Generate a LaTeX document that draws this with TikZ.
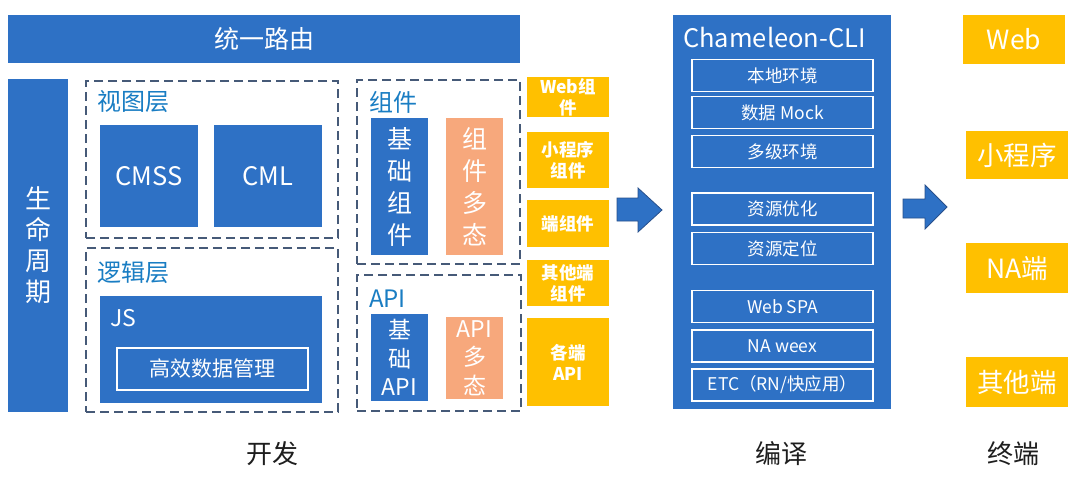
\documentclass[tikz,border=0pt]{standalone}
\usepackage{fontspec}
\setmainfont{Noto Sans CJK SC}
\definecolor{cblue}{RGB}{46,113,197}
\definecolor{lblue}{RGB}{25,125,195}
\definecolor{csalmon}{RGB}{247,168,124}
\definecolor{cyellow}{RGB}{255,192,0}
\definecolor{cdash}{RGB}{70,90,120}
\definecolor{carrow}{RGB}{40,80,140}
\definecolor{ctext}{RGB}{30,30,30}
\newcommand\fsz[2]{\fontsize{#1}{#2}\selectfont}
\begin{document}
\begin{tikzpicture}[x=1pt,y=-1pt,
  bluebox/.style={fill=cblue,draw=none,text=white,inner sep=0pt,align=center},
  salbox/.style={fill=csalmon,draw=none,text=white,inner sep=0pt,align=center},
  yelbox/.style={fill=cyellow,draw=none,text=white,inner sep=0pt,align=center},
  dashbox/.style={draw=cdash,line width=1.3pt,dash pattern=on 9pt off 5pt,inner sep=0pt},
  innerbox/.style={fill=cblue,draw=white,line width=1.3pt,text=white,inner sep=0pt,minimum width=181pt,minimum height=32pt,font=\fsz{17.5}{20}},
  layerlabel/.style={text=lblue,anchor=west,inner sep=0pt,font=\fsz{24}{28}},
  smallyel/.style={yelbox,minimum width=82pt,font=\fsz{17.5}{21}\bfseries},
  termbox/.style={yelbox,minimum width=102pt,font=\fsz{26.5}{28}},
  bottomlabel/.style={text=ctext,inner sep=0pt,font=\fsz{26}{30}},
  blockarrow/.style={fill=cblue,draw=carrow,line width=0.8pt}
]
\useasboundingbox (0,0) rectangle (1080,482);
\fill[white] (0,0) rectangle (1080,482);

% top bar
\node[bluebox,minimum width=512pt,minimum height=48pt,font=\fsz{25}{28}] (route) at (264,39) {统一路由};
% lifecycle
\node[bluebox,minimum width=60pt,minimum height=333pt,font=\fsz{26}{31}] (life) at (38,245.5) {生\\命\\周\\期};

% view layer
\node[dashbox,minimum width=252pt,minimum height=157pt] (view) at (212,159.5) {};
\node[layerlabel] (viewlbl) at (97,102) {视图层};
\node[bluebox,minimum width=98pt,minimum height=102pt,font=\fsz{25.5}{28}] (cmss) at (149,176) {CMSS};
\node[bluebox,minimum width=108pt,minimum height=102pt,font=\fsz{25.5}{28}] (cml) at (268,176) {CML};

% logic layer
\node[dashbox,minimum width=252pt,minimum height=164pt] (logic) at (212,330) {};
\node[layerlabel] (logiclbl) at (97,272) {逻辑层};
\node[bluebox,minimum width=222pt,minimum height=107pt] (js) at (211,349.5) {};
\node[anchor=west,text=white,inner sep=0pt,font=\fsz{23}{26}] (jslbl) at (110,318) {JS};
\node[bluebox,draw=white,line width=1.2pt,minimum width=191pt,minimum height=42pt,font=\fsz{21}{24}] (data) at (212.5,369) {高效数据管理};

% components
\node[dashbox,minimum width=163pt,minimum height=184pt] (comp) at (438.5,172) {};
\node[layerlabel] (complbl) at (369,102) {组件};
\node[bluebox,minimum width=57pt,minimum height=137pt,font=\fsz{25}{32}] (basecomp) at (399.5,186.5) {基\\础\\组\\件};
\node[salbox,minimum width=57pt,minimum height=137pt,font=\fsz{25}{32}] (polycomp) at (474.5,186.5) {组\\件\\多\\态};

% API
\node[dashbox,minimum width=164pt,minimum height=136pt] (api) at (439,343) {};
\node[layerlabel] (apilbl) at (369,299) {API};
\node[bluebox,minimum width=57pt,minimum height=87pt,font=\fsz{23}{28.5}] (baseapi) at (399.5,357.5) {基\\础\\API};
\node[salbox,minimum width=57pt,minimum height=82pt,font=\fsz{23}{28.5}] (polyapi) at (474.5,358) {API\\多\\态};

% yellow platform boxes
\node[smallyel,minimum height=40pt] (y1) at (568,97) {Web组\\件};
\node[smallyel,minimum height=56pt] (y2) at (568,160) {小程序\\组件};
\node[smallyel,minimum height=47pt] (y3) at (568,223.5) {端组件};
\node[smallyel,minimum height=46pt] (y4) at (568,283) {其他端\\组件};
\node[smallyel,minimum height=88pt] (y5) at (568,362) {各端\\API};

% arrow 1
\draw[blockarrow] (617,198) -- (638,198) -- (638,188) -- (662,210) -- (638,232) -- (638,221) -- (617,221) -- cycle;

% Chameleon CLI
\node[bluebox,minimum width=218pt,minimum height=394pt] (cli) at (782,212) {};
\node[text=white,inner sep=0pt,font=\fsz{25.5}{28}] (clititle) at (774.5,38) {Chameleon-CLI};
\node[innerbox] (c1) at (782.5,75.5) {本地环境};
\node[innerbox] (c2) at (782.5,112.5) {数据 Mock};
\node[innerbox] (c3) at (782.5,151.5) {多级环境};
\node[innerbox] (c4) at (782.5,209) {资源优化};
\node[innerbox] (c5) at (782.5,248.5) {资源定位};
\node[innerbox] (c6) at (782.5,306.5) {Web SPA};
\node[innerbox] (c7) at (782.5,346) {NA weex};
\node[innerbox] (c8) at (782.5,385) {ETC（RN/快应用）};

% arrow 2
\draw[blockarrow] (903,199) -- (925,199) -- (925,185) -- (947,207) -- (925,229) -- (925,218) -- (903,218) -- cycle;

% terminals
\node[termbox,minimum height=49pt] (t1) at (1014,39.5) {Web};
\node[termbox,minimum height=48pt] (t2) at (1017,155) {小程序};
\node[termbox,minimum height=50pt] (t3) at (1017,268) {NA端};
\node[termbox,minimum height=50pt] (t4) at (1017,382) {其他端};

% bottom labels
\node[bottomlabel] (dev) at (272,454) {开发};
\node[bottomlabel] (comp2) at (781,454) {编译};
\node[bottomlabel] (term) at (1013,454) {终端};
\end{tikzpicture}
\end{document}
